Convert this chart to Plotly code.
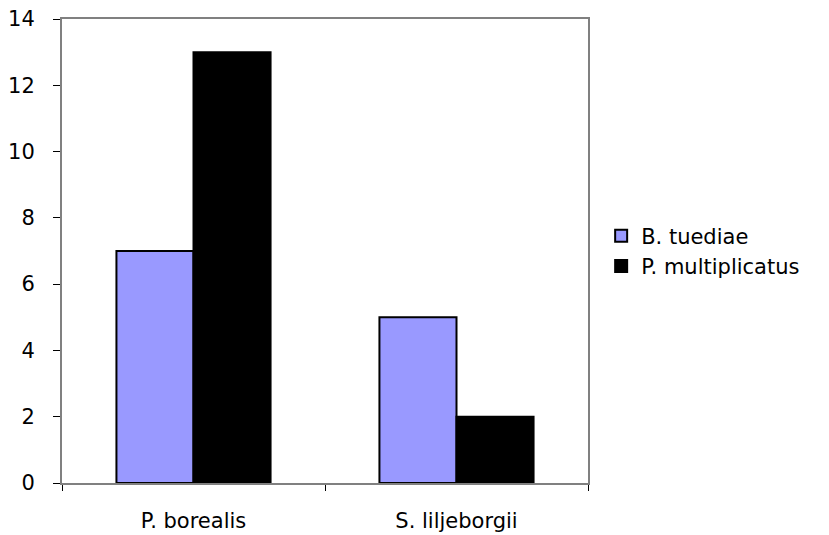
import plotly.graph_objects as go

categories = ["P. borealis", "S. liljeborgii"]
b_tuediae = [7, 5]
p_multiplicatus = [13, 2]

font_family = "DejaVu Sans, Verdana, sans-serif"

fig = go.Figure()
fig.add_trace(go.Bar(
    name="B. tuediae", x=categories, y=b_tuediae,
    marker=dict(color="#9999ff", line=dict(color="black", width=2)),
))
fig.add_trace(go.Bar(
    name="P. multiplicatus", x=categories, y=p_multiplicatus,
    marker=dict(color="black", line=dict(color="black", width=2)),
))

fig.update_layout(
    width=829, height=535,
    margin=dict(l=62, r=241, t=19, b=52),
    paper_bgcolor="white", plot_bgcolor="white",
    barmode="group", bargap=0.414, bargroupgap=0,
    font=dict(family=font_family, size=21, color="black"),
    showlegend=True,
    legend=dict(
        x=1.025, y=0.5, xanchor="left", yanchor="middle",
        font=dict(family=font_family, size=21, color="black"),
        itemsizing="constant", tracegroupgap=0,
    ),
    xaxis=dict(
        type="category", tickson="boundaries", ticks="outside", ticklen=6,
        tickcolor="black", showline=True, linecolor="#808080", linewidth=2,
        mirror=True, showgrid=False, ticklabelstandoff=18, automargin=False,
    ),
    yaxis=dict(
        range=[0, 14], dtick=2, ticks="outside", ticklen=7, tickcolor="black",
        showline=True, linecolor="#808080", linewidth=2, mirror=True,
        showgrid=False, zeroline=False, ticklabelstandoff=14, automargin=False,
    ),
)

fig.write_html("out.html")
